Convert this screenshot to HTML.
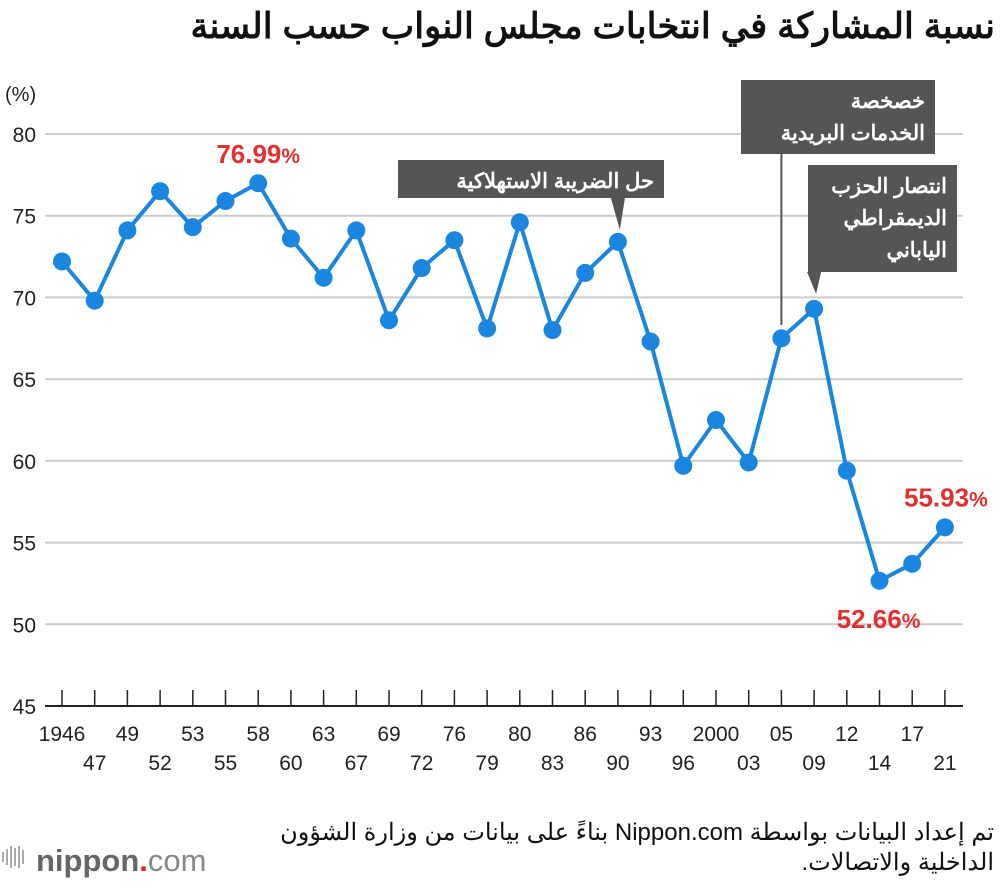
<!DOCTYPE html>
<html><head><meta charset="utf-8">
<style>
body{margin:0;background:#fff;width:1000px;height:884px;overflow:hidden;font-family:"Liberation Sans","Noto Sans CJK SC",sans-serif;}
svg text{font-family:"Liberation Sans","Noto Sans CJK SC",sans-serif;}
</style></head>
<body>
<svg id="chart" width="1000" height="884">
<text x="995" y="38" text-anchor="start" direction="rtl" font-size="35.5" font-weight="bold" fill="#111">نسبة المشاركة في انتخابات مجلس النواب حسب السنة</text>
<text x="5" y="101" font-size="20" fill="#222">(%)</text>
<g id="grid"></g>
<g id="ann"></g>
<g id="series"></g>
<text x="994" y="840" text-anchor="start" direction="rtl" font-size="24" fill="#111">تم إعداد البيانات بواسطة Nippon.com بناءً على بيانات من وزارة الشؤون</text>
<text x="994" y="870" text-anchor="start" direction="rtl" font-size="24" fill="#111">الداخلية والاتصالات.</text>
<g>
<g fill="#aaa"><rect x="2" y="852" width="2" height="10"/><rect x="6" y="849" width="2" height="16"/><rect x="10" y="846" width="2" height="22"/><rect x="14" y="848" width="2" height="18"/><rect x="18" y="846" width="2" height="22"/><rect x="22" y="850" width="2" height="14"/></g>
<text x="36" y="871" font-size="31" fill="#666" font-weight="bold">nippon<tspan fill="#e02020">.</tspan><tspan font-weight="normal" fill="#888">com</tspan></text>
</g>
</svg>
<script>
const years = ["1946","47","49","52","53","55","58","60","63","67","69","72","76","79","80","83","86","90","93","96","2000","03","05","09","12","14","17","21"];
const turnout = [72.2,69.8,74.1,76.5,74.3,75.9,76.99,73.6,71.2,74.1,68.6,71.8,73.5,68.1,74.6,68.0,71.5,73.4,67.3,59.7,62.5,59.9,67.5,69.3,59.4,52.66,53.7,55.93];
const yTicks = [45,50,55,60,65,70,75,80];
const NS="http://www.w3.org/2000/svg";
const xS=i=>62+i*32.7;
const yS=v=>706-(v-45)*572/35;
function mk(tag,attrs,parent,txt){const e=document.createElementNS(NS,tag);for(const k in attrs)e.setAttribute(k,attrs[k]);if(txt!==undefined)e.textContent=txt;parent.appendChild(e);return e;}
const grid=document.getElementById('grid');
yTicks.forEach(t=>{
 if(t>45){const l=mk('line',{x1:45,x2:963,y1:yS(t),y2:yS(t),stroke:'#ccc','stroke-width':2},grid);
 
 }
 const tx=mk('text',{x:36,y:yS(t)+8,'text-anchor':'end','font-size':21,fill:'#222'},grid,String(t));
 
 
});
const ax=mk('line',{x1:45,x2:963,y1:706,y2:706,stroke:'#222','stroke-width':2},grid);


years.forEach((y,i)=>{
 const tk=mk('line',{x1:xS(i),x2:xS(i),y1:690,y2:706,stroke:'#222','stroke-width':1.5},grid);
 
 
 const tx=mk('text',{x:xS(i),y:i%2===0?741:770,'text-anchor':'middle','font-size':21,fill:'#222'},grid,y);
 
 
});
const ann=document.getElementById('ann');
function box(name,x,y,w,h,lines,px,py,thin){
 const g=mk('g',{},ann);
 
 
 mk('rect',{x:x,y:y,width:w,height:h,fill:'#555'},g);
 if(thin) mk('line',{x1:px,x2:px,y1:y+h,y2:py,stroke:'#555','stroke-width':2},g);
 else mk('polygon',{points:`${px-9},${y+h} ${px+5},${y+h} ${px},${py}`,fill:'#555'},g);
 lines.forEach((t,k)=>mk('text',{x:x+w-10,y:y+28+k*32,'text-anchor':'end','font-size':21,'font-weight':'bold',fill:'#fff'},g,t));
}
box('annotation-consumption-tax',398,160,266,38,['حل الضريبة الاستهلاكية'],xS(17)+2,230,false);
box('annotation-postal-privatization',741,80,194,74,['خصخصة','الخدمات البريدية'],xS(22),325,true);
box('annotation-dpj-victory',808,165,149,107,['انتصار الحزب','الديمقراطي','الياباني'],xS(23)+2,294,false);
const s=document.getElementById('series');
const pl=mk('polyline',{points:turnout.map((v,i)=>xS(i)+','+yS(v)).join(' '),fill:'none',stroke:'#1a86e0','stroke-width':4,'stroke-linejoin':'round'},s);


turnout.forEach((v,i)=>{
 const c=mk('circle',{cx:xS(i),cy:yS(v),r:9,fill:'#1a86e0'},s);
 
 
});
function lab(i,dx,dy,anchor,name){
 const t=mk('text',{x:xS(i)+dx,y:yS(turnout[i])+dy,'text-anchor':anchor,'font-size':26,'font-weight':'bold',fill:'#e03030'},s);
 t.appendChild(document.createTextNode(turnout[i].toFixed(2)));
 mk('tspan',{'font-size':21},t,'%');
 
 
}
lab(6,0,-20,'middle','label-max');
lab(25,-1,47,'middle','label-min');
lab(27,1,-21,'middle','label-latest');
</script>
</body></html>
